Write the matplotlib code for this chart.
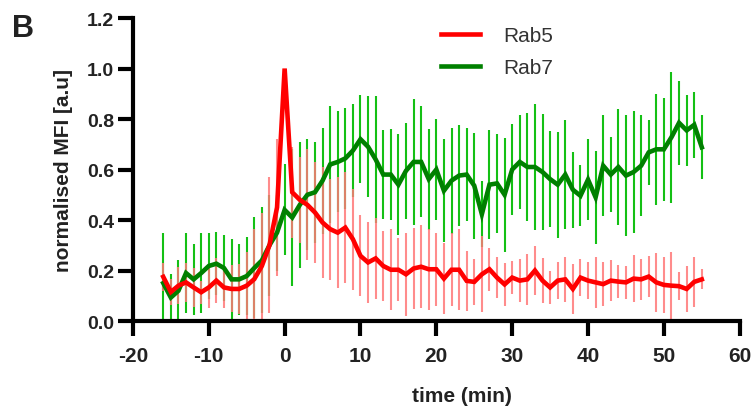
import numpy as np
import matplotlib
matplotlib.use("Agg")
import matplotlib.pyplot as plt

plt.rcParams['font.family'] = ['Liberation Sans', 'DejaVu Sans']

time = list(range(-16, 56))

rab5 = [0.175, 0.115, 0.14, 0.153, 0.133, 0.114, 0.133, 0.16, 0.133, 0.127,
        0.127, 0.14, 0.166, 0.218, 0.30, 0.45, 1.0, 0.51, 0.48, 0.46,
        0.43, 0.39, 0.364, 0.35, 0.37, 0.324, 0.258, 0.232, 0.248, 0.218,
        0.203, 0.203, 0.185, 0.208, 0.215, 0.205, 0.205, 0.168, 0.203, 0.203,
        0.159, 0.155, 0.185, 0.205, 0.172, 0.145, 0.172, 0.16, 0.165, 0.2,
        0.16, 0.133, 0.16, 0.165, 0.127, 0.172, 0.16, 0.153, 0.146, 0.16,
        0.156, 0.153, 0.168, 0.165, 0.176, 0.153, 0.143, 0.14, 0.138, 0.127,
        0.155, 0.165]

rab5_err = [0.056, 0.05, 0.074, 0.076, 0.077, 0.046, 0.083, 0.09, 0.08, 0.093,
            0.1, 0.135, 0.2, 0.21, 0.27, 0.27, 0.0, 0.18, 0.17, 0.22,
            0.2, 0.22, 0.2, 0.22, 0.22, 0.2, 0.16, 0.16, 0.16, 0.14,
            0.16, 0.125, 0.165, 0.16, 0.165, 0.16, 0.145, 0.14, 0.145, 0.16,
            0.12, 0.09, 0.15, 0.086, 0.08, 0.086, 0.066, 0.086, 0.1, 0.096,
            0.09, 0.066, 0.073, 0.09, 0.098, 0.073, 0.073, 0.1, 0.086, 0.08,
            0.066, 0.066, 0.094, 0.08, 0.08, 0.116, 0.11, 0.135, 0.056, 0.09,
            0.1, 0.04]

rab7 = [0.15, 0.093, 0.12, 0.19, 0.165, 0.19, 0.218, 0.227, 0.21, 0.165,
        0.165, 0.178, 0.21, 0.24, 0.30, 0.35, 0.44, 0.41, 0.46, 0.50,
        0.51, 0.556, 0.62, 0.63, 0.644, 0.675, 0.72, 0.69, 0.64, 0.58,
        0.58, 0.54, 0.595, 0.63, 0.63, 0.562, 0.6, 0.516, 0.556, 0.576,
        0.58, 0.536, 0.423, 0.54, 0.545, 0.5, 0.6, 0.63, 0.61, 0.61,
        0.59, 0.562, 0.54, 0.58, 0.52, 0.496, 0.56, 0.49, 0.615, 0.58,
        0.61, 0.576, 0.59, 0.615, 0.668, 0.68, 0.68, 0.728, 0.785, 0.755,
        0.777, 0.688]

rab7_err = [0.2, 0.093, 0.12, 0.16, 0.14, 0.157, 0.13, 0.124, 0.13, 0.16,
            0.14, 0.155, 0.2, 0.21, 0.2, 0.15, 0.18, 0.27, 0.25, 0.22,
            0.2, 0.21, 0.23, 0.2, 0.2, 0.184, 0.175, 0.2, 0.25, 0.177,
            0.18, 0.2, 0.19, 0.25, 0.22, 0.2, 0.2, 0.205, 0.21, 0.2,
            0.185, 0.21, 0.13, 0.215, 0.195, 0.225, 0.18, 0.187, 0.215, 0.25,
            0.23, 0.19, 0.21, 0.215, 0.15, 0.12, 0.16, 0.185, 0.2, 0.15,
            0.23, 0.24, 0.24, 0.2, 0.128, 0.22, 0.205, 0.26, 0.167, 0.14,
            0.13, 0.127]

xticks = [-20, -10, 0, 10, 20, 30, 40, 50, 60]
yticks = [0.0, 0.2, 0.4, 0.6, 0.8, 1.0, 1.2]

fig = plt.figure(figsize=(7.51, 4.10), dpi=100)
ax = fig.add_axes([0.177, 0.2146, 0.808, 0.739])

ax.errorbar(time, rab7, yerr=rab7_err, fmt='none', ecolor='#14c014',
            elinewidth=1.5, capsize=0, zorder=1)
ax.errorbar(time, rab5, yerr=rab5_err, fmt='none', ecolor='#ff7878',
            alpha=0.85, elinewidth=1.5, capsize=0, zorder=1.2)
ax.plot(time, rab7, color='#008000', lw=3.3, label='Rab7', zorder=3,
        solid_joinstyle='miter')
ax.plot(time, rab5, color='#ff0000', lw=3.3, label='Rab5', zorder=3.2,
        solid_joinstyle='miter')

ax.set_xlim(-20, 60)
ax.set_ylim(0, 1.2)
ax.set_xticks(xticks)
ax.set_xticklabels([str(v) for v in xticks])
ax.set_yticks(yticks)
ax.set_yticklabels([f"{v:.1f}" for v in yticks])

for s in ['top', 'right']:
    ax.spines[s].set_visible(False)
for s in ['left', 'bottom']:
    ax.spines[s].set_linewidth(3.0)
    ax.spines[s].set_zorder(5)
ax.tick_params(axis='both', width=3.0, length=11, color='black',
               labelcolor='#222222')
ax.tick_params(axis='x', labelsize=15, pad=7)
ax.tick_params(axis='y', labelsize=14, pad=2.5)
for lab in ax.get_xticklabels() + ax.get_yticklabels():
    lab.set_fontweight('bold')

ax.set_xlabel('time (min)', fontsize=15, fontweight='bold', color='#222222')
ax.xaxis.set_label_coords(0.542, -0.215)
ax.set_ylabel('normalised MFI [a.u]', fontsize=15, fontweight='bold',
              color='#222222', labelpad=10)

h, l = ax.get_legend_handles_labels()
leg = ax.legend([h[1], h[0]], [l[1], l[0]], loc='upper left',
                bbox_to_anchor=(0.5617, 0.98), bbox_transform=fig.transFigure,
                frameon=False, fontsize=15, handlelength=1.9,
                handletextpad=1.1, labelspacing=0.63)
for t in leg.get_texts():
    t.set_color('#333333')

fig.text(0.016, 0.9098, 'B', fontsize=22, fontweight='bold', color='#222222',
         va='baseline')

fig.savefig('out.png', dpi=100)
